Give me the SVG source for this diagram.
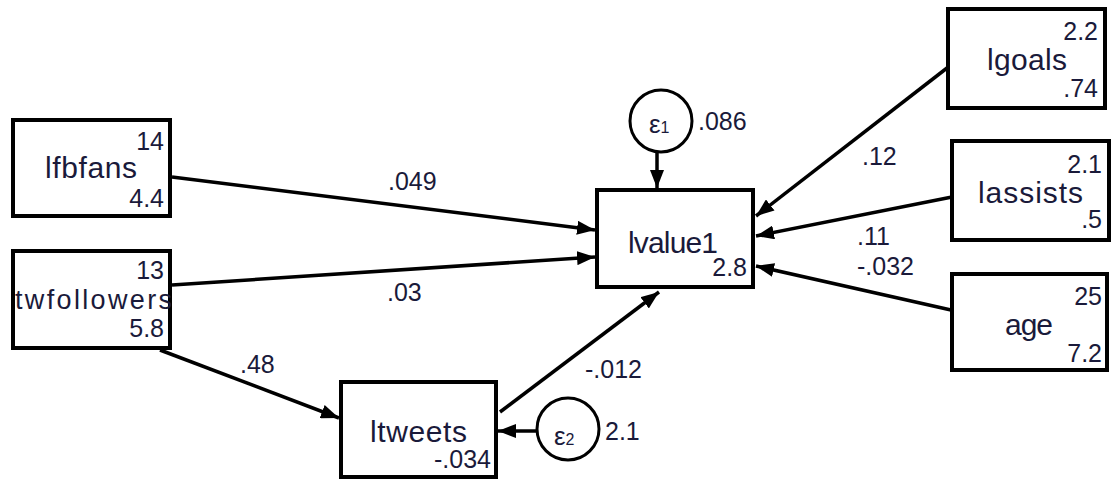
<svg xmlns="http://www.w3.org/2000/svg" width="1119" height="479" viewBox="0 0 1119 479">
<defs>
<marker id="ah" viewBox="0 0 18 14" refX="18" refY="7" markerWidth="18" markerHeight="14" markerUnits="userSpaceOnUse" orient="auto">
<path d="M0,0 L18,7 L0,14 Z" fill="#000"/>
</marker>
<style>
.box{fill:#fff;stroke:#000;stroke-width:4}
.circ{fill:#fff;stroke:#000;stroke-width:3}
.nm{font-family:"Liberation Sans",Arial,sans-serif;font-size:30px;fill:#1a1a3a}
.num{font-family:"Liberation Sans",Arial,sans-serif;font-size:25px;fill:#1a1a3a;text-anchor:end}
.lbl{font-family:"Liberation Sans",Arial,sans-serif;font-size:25px;fill:#1a1a3a}
.eps{font-family:"Liberation Sans",Arial,sans-serif;font-size:26px;fill:#1a1a3a}
.sub{font-size:16px}
.edge{stroke:#000;stroke-width:3.5;fill:none;marker-end:url(#ah)}
</style>
</defs>
<rect width="1119" height="479" fill="#fff"/>
<g id="connectors">
<line class="edge" x1="657" y1="153" x2="657" y2="188"/>
<line class="edge" x1="172" y1="177" x2="595" y2="230"/>
<line class="edge" x1="172" y1="285" x2="595" y2="257"/>
<line class="edge" x1="160" y1="350" x2="339" y2="418"/>
<line class="edge" x1="500" y1="412" x2="659" y2="292"/>
<line class="edge" x1="537" y1="431" x2="498" y2="431"/>
<line class="edge" x1="947" y1="68" x2="756" y2="216"/>
<line class="edge" x1="952" y1="197" x2="756" y2="236"/>
<line class="edge" x1="951" y1="310" x2="756" y2="266"/>
<text class="lbl" x="388" y="190">.049</text>
<text class="lbl" x="387" y="301">.03</text>
<text class="lbl" x="240" y="373">.48</text>
<text class="lbl" x="585" y="378">-.012</text>
<text class="lbl" x="862" y="165">.12</text>
<text class="lbl" x="857" y="245">.11</text>
<text class="lbl" x="857" y="275">-.032</text>
</g>
<g id="lfbfans">
<rect class="box" x="13" y="120" width="157" height="96"/>
<text class="nm" x="45" y="178" textLength="92">lfbfans</text>
<text class="num" x="164" y="150">14</text>
<text class="num" x="164" y="207">4.4</text>
</g>
<g id="twfollowers">
<rect class="box" x="13" y="251" width="157" height="97"/>
<text class="nm" x="15" y="309" textLength="157" style="font-size:27px">twfollowers</text>
<text class="num" x="164" y="279">13</text>
<text class="num" x="164" y="337">5.8</text>
</g>
<g id="lvalue1">
<rect class="box" x="597" y="190" width="156" height="97"/>
<text class="nm" x="628" y="253" textLength="90">lvalue1</text>
<text class="num" x="747" y="276">2.8</text>
</g>
<g id="e1">
<circle class="circ" cx="661" cy="121" r="31"/>
<text class="eps" x="649" y="133">ε<tspan class="sub">1</tspan></text>
<text class="lbl" x="698" y="130">.086</text>
</g>
<g id="ltweets">
<rect class="box" x="341" y="382" width="155" height="95"/>
<text class="nm" x="370" y="442" textLength="97">ltweets</text>
<text class="num" x="491" y="468">-.034</text>
</g>
<g id="e2">
<circle class="circ" cx="568" cy="429" r="31"/>
<text class="eps" x="554" y="445">ε<tspan class="sub">2</tspan></text>
<text class="lbl" x="605" y="440">2.1</text>
</g>
<g id="lgoals">
<rect class="box" x="948" y="9" width="157" height="99"/>
<text class="nm" x="987" y="70" textLength="80">lgoals</text>
<text class="num" x="1098" y="40">2.2</text>
<text class="num" x="1098" y="97">.74</text>
</g>
<g id="lassists">
<rect class="box" x="952" y="141" width="157" height="99"/>
<text class="nm" x="978" y="203" textLength="105">lassists</text>
<text class="num" x="1102" y="173">2.1</text>
<text class="num" x="1102" y="228">.5</text>
</g>
<g id="age">
<rect class="box" x="952" y="274" width="155" height="96"/>
<text class="nm" x="1005" y="335" textLength="48">age</text>
<text class="num" x="1102" y="305">25</text>
<text class="num" x="1102" y="362">7.2</text>
</g>
</svg>
